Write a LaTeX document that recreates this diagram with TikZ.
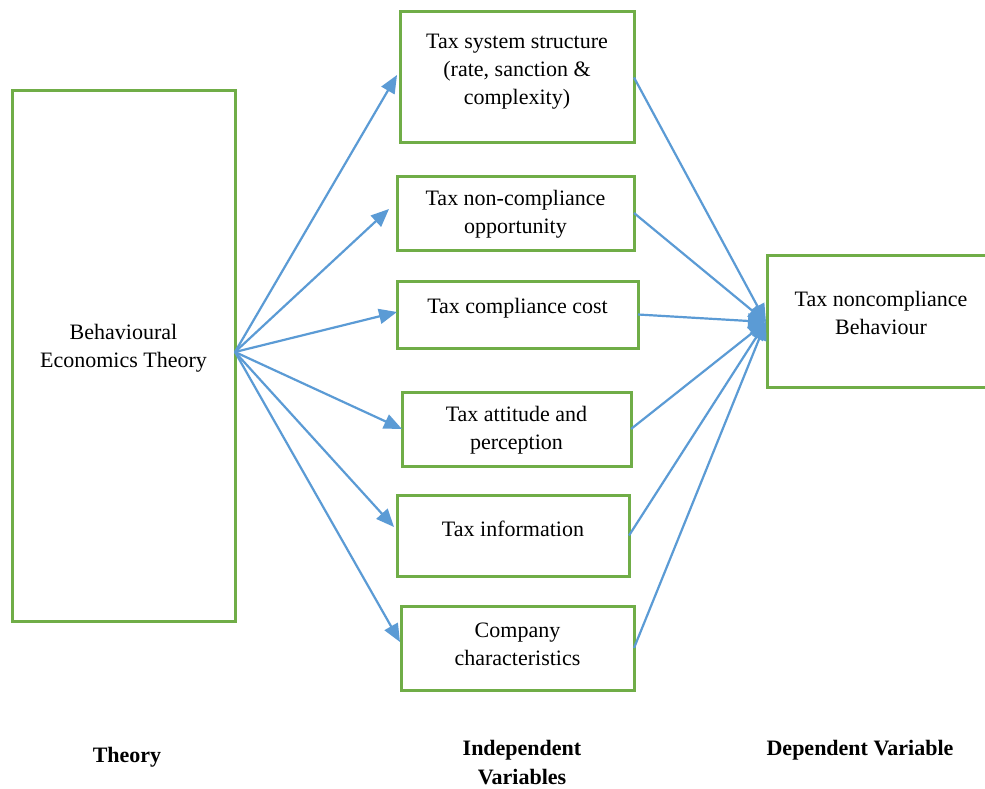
\documentclass[tikz,border=0pt]{standalone}
\usepackage{fontspec}
\setmainfont{Liberation Serif}
\usetikzlibrary{arrows.meta}
\definecolor{boxgreen}{RGB}{112,173,71}
\definecolor{arrblue}{RGB}{91,155,213}
\begin{document}
\begin{tikzpicture}[x=1pt,y=-1pt,
  box/.style={draw=boxgreen, line width=3pt, inner sep=0pt, outer sep=0pt, anchor=north west},
  txt/.style={align=center, font=\fontsize{22}{28}\selectfont, inner sep=0pt},
  head/.style={align=center, font=\fontsize{22}{29}\selectfont\bfseries, inner sep=0pt},
  arr/.style={draw=arrblue, line width=2.2pt, -{Triangle[length=18pt,width=15pt]}}]
\useasboundingbox (0,0) rectangle (985,789);
\fill[white] (0,0) rectangle (985,789);
% boxes
\node[box, minimum width=223, minimum height=530] (th) at (12,91) {};
\node[box, minimum width=234, minimum height=131] (b1) at (400,12) {};
\node[box, minimum width=237, minimum height=74] (b2) at (397,176) {};
\node[box, minimum width=241, minimum height=67] (b3) at (397,281) {};
\node[box, minimum width=229, minimum height=74] (b4) at (402,392) {};
\node[box, minimum width=232, minimum height=81] (b5) at (397,495) {};
\node[box, minimum width=233, minimum height=84] (b6) at (401,606) {};
\node[box, minimum width=240, minimum height=132] (dv) at (767,255) {};
% texts
\node[txt] (tth) at (123.5,348) {Behavioural\\Economics Theory};
\node[txt] (tb1) at (517,72) {Tax system structure\\(rate, sanction \&\\complexity)};
\node[txt] (tb2) at (515.5,214) {Tax non-compliance\\opportunity};
\node[txt] (tb3) at (517.5,308) {Tax compliance cost};
\node[txt] (tb4) at (516.5,430) {Tax attitude and\\perception};
\node[txt] (tb5) at (513,529) {Tax information};
\node[txt] (tb6) at (517.5,644) {Company\\characteristics};
\node[txt] (tdv) at (881,313) {Tax noncompliance\\Behaviour};
% headings
\node[head] (h1) at (127,757) {Theory};
\node[head] (h2) at (522,763) {Independent\\Variables};
\node[head] (h3) at (860,750) {Dependent Variable};
% arrow points
\coordinate (src) at (235,352);
\coordinate (p1) at (397,75);
\coordinate (p2) at (389,209);
\coordinate (p3) at (397,312);
\coordinate (p4) at (402,429);
\coordinate (p5) at (394,527);
\coordinate (p6) at (400,642);
\coordinate (dst) at (766,322);
\foreach \i in {1,...,6} {\draw[arr] (src) -- (p\i);}
\foreach \i in {b1,b2,b3,b4,b5,b6} {\draw[arr] (\i.east) -- (dst);}
\end{tikzpicture}
\end{document}
